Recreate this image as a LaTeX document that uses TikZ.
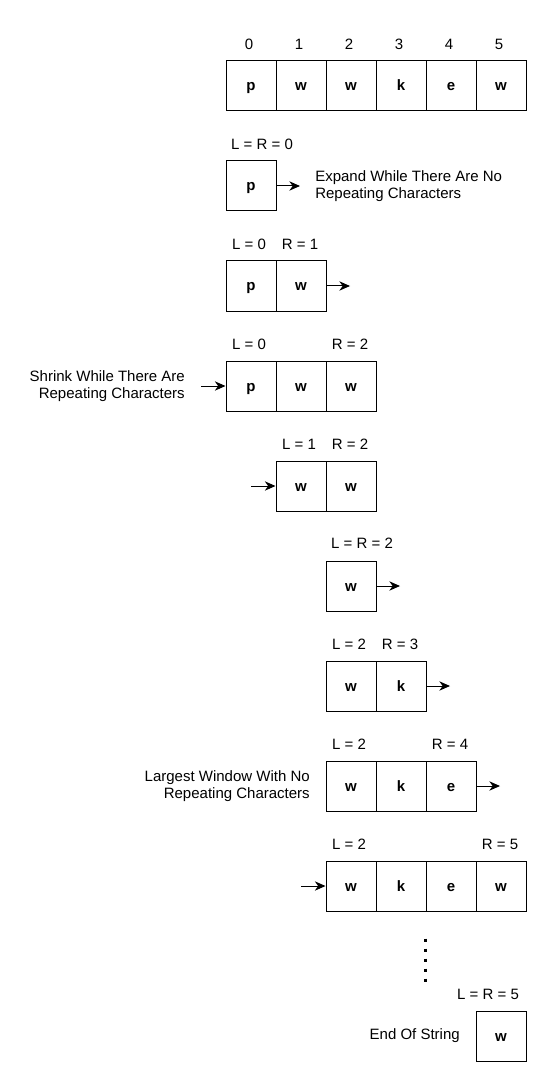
\documentclass[tikz,border=0pt]{standalone}
\usepackage{fontspec}
\setmainfont{Liberation Sans}
\usetikzlibrary{arrows.meta}
\begin{document}
\begin{tikzpicture}[x=0.75pt,y=-0.75pt,
    cell/.style={draw,line width=0.75pt,minimum size=37.5pt,inner sep=0pt,
      text height=7.5pt,text depth=0pt,
      font=\fontsize{11.25}{13}\selectfont\bfseries},
    lbl/.style={inner sep=0pt,font=\fontsize{11.25}{13}\selectfont},
    note/.style={lbl,align=#1},
    move/.style={line width=0.75pt,-{Stealth[length=8pt,width=7pt,inset=2.5pt]}}]
  \useasboundingbox (0,0) rectangle (552,1087);
  % the string
  \draw
    (249,44) node[lbl] (i0){0}
    (299,44) node[lbl] (i1){1}
    (349,44) node[lbl] (i2){2}
    (399,44) node[lbl] (i3){3}
    (449,44) node[lbl] (i4){4}
    (499,44) node[lbl] (i5){5}
    (251,86) node[cell] (s0){p}
    (301,86) node[cell] (s1){w}
    (351,86) node[cell] (s2){w}
    (401,86) node[cell] (s3){k}
    (451,86) node[cell] (s4){e}
    (501,86) node[cell] (s5){w};
  % window 1
  \draw
    (262,144) node[lbl] (l1){L = R = 0}
    (251,186) node[cell] (a0){p}
    (315,186) node[note=left,anchor=west] (t1){Expand While There Are No\\Repeating Characters};
  \coordinate (e1) at (300,186);
  % window 2
  \draw
    (249,244) node[lbl] (l2){L = 0}
    (300,244) node[lbl] (r2){R = 1}
    (251,286) node[cell] (b0){p}
    (301,286) node[cell] (b1){w};
  \coordinate (e2) at (350,286);
  % window 3
  \draw
    (249,344) node[lbl] (l3){L = 0}
    (350,344) node[lbl] (r3){R = 2}
    (251,386) node[cell] (c0){p}
    (301,386) node[cell] (c1){w}
    (351,386) node[cell] (c2){w}
    (185,386) node[note=right,anchor=east] (t3){Shrink While There Are\\Repeating Characters};
  \coordinate (e3) at (201,386);
  % window 4
  \draw
    (299,444) node[lbl] (l4){L = 1}
    (350,444) node[lbl] (r4){R = 2}
    (301,486) node[cell] (d0){w}
    (351,486) node[cell] (d1){w};
  \coordinate (e4) at (251,486);
  % window 5
  \draw
    (362,543) node[lbl] (l5){L = R = 2}
    (351,586) node[cell] (f0){w};
  \coordinate (e5) at (400,586);
  % window 6
  \draw
    (349,644) node[lbl] (l6){L = 2}
    (400,644) node[lbl] (r6){R = 3}
    (351,686) node[cell] (g0){w}
    (401,686) node[cell] (g1){k};
  \coordinate (e6) at (450,686);
  % window 7
  \draw
    (349,744) node[lbl] (l7){L = 2}
    (450,744) node[lbl] (r7){R = 4}
    (351,786) node[cell] (h0){w}
    (401,786) node[cell] (h1){k}
    (451,786) node[cell] (h2){e}
    (310,786) node[note=right,anchor=east] (t7){Largest Window With No\\Repeating Characters};
  \coordinate (e7) at (500,786);
  % window 8
  \draw
    (349,844) node[lbl] (l8){L = 2}
    (500,844) node[lbl] (r8){R = 5}
    (351,886) node[cell] (k0){w}
    (401,886) node[cell] (k1){k}
    (451,886) node[cell] (k2){e}
    (501,886) node[cell] (k3){w};
  \coordinate (e8) at (301,886);
  % end of string
  \draw
    (488,994) node[lbl] (l9){L = R = 5}
    (501,1036) node[cell] (m0){w}
    (460,1036) node[note=right,anchor=east] (t9){End Of String};
  \draw[line width=2.25pt,dash pattern=on 2.25pt off 5.25pt] (425,938.5) -- (425,981.5);
  \begin{scope}[move]
    \draw (a0) to (e1);
    \draw (b1) to (e2);
    \draw (e3) to (c0);
    \draw (e4) to (d0);
    \draw (f0) to (e5);
    \draw (g1) to (e6);
    \draw (h2) to (e7);
    \draw (e8) to (k0);
  \end{scope}
\end{tikzpicture}
\end{document}
